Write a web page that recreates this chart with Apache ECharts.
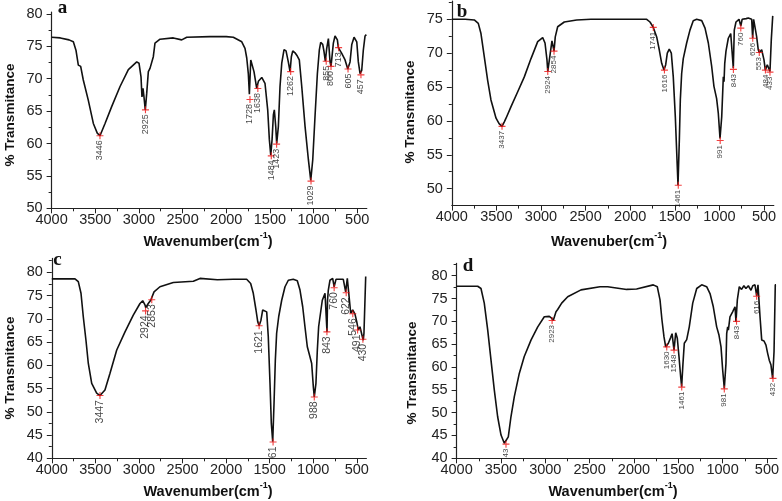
<!DOCTYPE html>
<html><head><meta charset="utf-8">
<script src="https://cdn.jsdelivr.net/npm/echarts@6/dist/echarts.min.js"></script>
<style>html,body{margin:0;padding:0;background:#fff}#c{width:782px;height:501px}</style>
</head><body><div id="c"></div>
<script>
// ---------- DATA ----------
// Panel a
const aX = [4000,3900,3800,3751,3721,3694,3667,3637,3580,3522,3477,3446,3388,3312,3216,3121,3025,2999,2976,2965,2953,2942,2927,2911,2892,2873,2853,2835,2816,2758,2606,2510,2452,2186,2000,1919,1822,1785,1765,1747,1735,1719,1704,1682,1651,1632,1593,1556,1525,1506,1490,1475,1460,1449,1433,1422,1403,1384,1364,1338,1315,1289,1269,1254,1238,1212,1186,1163,1135,1097,1059,1032,1009,983,956,934,918,895,880,865,849,830,811,800,773,754,727,716,704,677,639,608,582,562,536,505,487,467,448,430,410,395];
const aY = [76.4,76.3,76.0,75.7,74.4,72.1,71.9,69.8,66.7,63.1,61.6,61.2,63.1,65.7,68.8,71.4,72.6,72.4,70.3,67.2,68.5,67.2,65.2,67.7,71.1,71.6,71.4,73.4,75.5,76.1,76.3,76.0,76.4,76.5,76.5,76.4,75.7,74.7,73.2,70.8,67.6,72.9,73.0,71.1,68.5,69.6,70.2,69.3,65.2,60.6,58.2,60.6,64.4,65.2,62.6,60.0,62.6,68.8,72.4,74.5,74.3,72.6,71.1,73.4,74.3,74.0,73.5,72.9,68.8,62.6,57.5,54.3,57.5,64.2,70.8,74.4,75.6,75.3,74.2,72.7,74.7,76.2,72.6,71.9,75.5,76.6,76.0,74.8,74.7,73.9,72.9,71.5,72.6,75.3,76.4,75.7,72.6,70.8,71.3,74.4,76.6,76.8];
const aPeakX = [3446,2925,1728,1638,1484,1423,1262,1029,855,800,713,605,457];
const aPeakY = [61.2,65.2,66.8,68.5,58.1,59.9,71.1,54.2,72.7,71.9,74.8,71.5,70.6];
const aPeakLabel = ['3446','2925','1728','1638','1484','1423','1262','1029','855','800','713','605','457'];

// Panel b
const bX = [4000,3850,3748,3703,3673,3636,3598,3561,3504,3470,3437,3410,3392,3336,3261,3187,3112,3037,2981,2955,2933,2924,2896,2877,2866,2854,2840,2813,2739,2600,2440,2200,2000,1815,1778,1741,1703,1674,1647,1621,1602,1584,1562,1539,1517,1494,1475,1464,1449,1438,1423,1405,1367,1330,1293,1255,1198,1161,1124,1086,1061,1031,1012,993,974,956,948,940,926,900,873,855,844,833,814,780,760,745,700,676,638,627,616,601,582,564,553,526,500,485,463,433,418,402];
const bY = [75.0,75.0,74.9,74.4,72.9,69.5,66.0,63.1,60.4,59.6,59.2,59.9,60.4,62.1,64.3,66.5,69.2,71.7,72.3,71.5,69.0,67.3,70.0,71.8,71.6,70.3,72.4,73.9,74.6,74.9,75.0,75.0,75.0,75.0,74.6,73.8,72.4,70.5,68.5,67.5,68.3,70.0,70.6,70.0,66.5,60.6,54.2,50.5,57.2,63.1,67.0,69.2,71.5,73.4,74.8,75.0,74.8,73.7,71.5,68.0,65.1,63.3,61.1,57.4,60.6,66.5,65.8,68.5,70.3,72.2,72.9,72.9,67.8,73.4,74.6,75.0,74.0,75.0,75.1,75.2,75.0,72.2,75.0,75.2,72.4,70.5,70.1,70.5,69.0,67.5,68.3,67.3,72.0,75.5];
const bPeakX = [3437,2924,2854,1741,1616,1461,991,843,760,626,553,484,433];
const bPeakY = [59.2,67.3,70.3,73.8,67.5,50.5,57.1,67.6,73.7,72.2,70.1,67.5,67.2];
const bPeakLabel = ['3437','2924','2854','1741','1616','1461','991','843','760','626','553','484','433'];

// Panel c
const cX = [4000,3850,3734,3696,3665,3639,3608,3581,3542,3485,3447,3390,3332,3255,3160,3065,2988,2957,2931,2922,2893,2865,2853,2827,2759,2606,2376,2300,2100,1917,1764,1718,1688,1657,1637,1621,1600,1580,1562,1534,1516,1496,1481,1465,1450,1435,1420,1396,1362,1324,1286,1229,1183,1152,1121,1095,1068,1037,1018,999,988,969,953,945,938,922,896,865,846,842,836,827,808,777,760,739,655,628,609,590,570,547,521,501,483,464,437,426,418,398];
const cY = [78.6,78.6,78.6,78.0,75.5,70.5,65.4,60.4,56.1,54.0,53.5,54.7,58.3,63.3,67.2,70.8,73.3,73.9,73.0,72.4,73.3,74.0,73.8,75.8,76.9,77.8,78.1,78.7,78.4,78.5,78.5,77.6,75.5,71.9,69.4,68.5,69.7,71.9,72.0,71.5,66.2,56.1,47.5,43.6,51.8,61.1,66.9,70.5,74.0,76.9,78.3,78.5,78.2,76.2,72.6,68.3,64.0,61.8,60.4,55.4,53.2,56.1,63.3,66.0,68.3,70.5,74.0,75.5,75.5,67.2,74.0,76.2,78.3,78.7,76.9,78.5,78.5,75.8,78.7,78.3,71.2,71.9,71.0,69.4,67.6,68.3,66.2,65.4,66.9,79.1];
const cPeakX = [3447,2924,2853,1621,1461,988,843,760,622,546,491,430];
const cPeakY = [53.5,71.7,74.1,68.5,43.5,53.2,67.2,76.7,75.6,71.1,67.6,65.6];
const cPeakLabel = ['3447','2924','2853','1621','61','988','843','760','622','546','491','430'];

// Panel d
const dX = [4000,3762,3725,3688,3649,3612,3575,3537,3499,3462,3443,3417,3387,3349,3293,3237,3161,3085,3011,2955,2928,2910,2879,2860,2841,2815,2747,2597,2383,2296,2082,1970,1782,1737,1706,1684,1661,1642,1612,1585,1570,1548,1529,1511,1492,1473,1462,1447,1432,1405,1376,1337,1292,1236,1180,1142,1105,1067,1041,1018,999,981,962,954,943,935,917,887,860,849,834,812,786,760,737,710,680,660,635,616,601,578,559,533,511,492,474,455,436,420,406,398];
const dY = [77.7,77.7,77.2,74.0,68.1,61.5,55.0,49.1,45.1,43.3,43.1,44.7,49.1,53.5,58.6,62.3,65.9,68.8,71.0,71.1,70.7,70.2,72.1,72.6,72.4,74.0,75.4,76.9,77.6,77.6,77.0,77.1,78.0,77.6,74.7,70.3,66.6,64.4,65.2,66.5,67.3,63.7,67.5,66.3,62.3,57.9,55.7,60.8,65.2,66.0,68.8,74.0,77.2,78.0,77.6,76.1,73.2,68.8,67.0,64.4,59.3,55.3,60.8,67.3,68.8,68.1,71.0,72.1,73.2,69.9,74.7,77.6,77.0,77.8,77.2,77.8,76.8,77.8,78.0,75.6,78.0,71.0,65.9,65.7,64.8,63.0,61.5,60.5,57.5,63.4,78.0,78.0];
const dPeakX = [3443,2923,1630,1548,1461,981,843,616,432];
const dPeakY = [43.1,70.2,64.4,63.7,55.6,55.2,70.0,75.5,57.5];
const dPeakLabel = ['43','2923','1630','1548','1461','981','843','616','432'];

// Tick labels
const xMajorTicks = [4000,3500,3000,2500,2000,1500,1000,500];
const xMinorTicks = [3750,3250,2750,2250,1750,1250,750];
const yTicksA = [50,55,60,65,70,75,80];
const yMinorA = [52.5,57.5,62.5,67.5,72.5,77.5];
const yTicksB = [50,55,60,65,70,75];
const yMinorB = [52.5,57.5,62.5,67.5,72.5,77.5];
const yTicksCD = [40,45,50,55,60,65,70,75,80];
const yMinorCD = [42.5,47.5,52.5,57.5,62.5,67.5,72.5,77.5,82.5];

const panelLetters = ['a','b','c','d'];
const yTitle = '% Transmitance';
const xTitles = ['Wavenumber','Wavenuber','Wavenumber','Wavenumber'];

// ---------- LAYOUT ----------
const layout = [
  {grid:{left:51.6, top:12, width:315.2, height:196.3}, ymin:50, ymax:80.3, yt:yTicksA, ym:yMinorA, lab:9,
   letter:[62.5,18], yT:[10,115], xT:[208,240]},
  {grid:{left:451.8, top:1, width:322, height:204.6}, ymin:47.5, ymax:77.7, yt:yTicksB, ym:yMinorB, lab:8,
   letter:[462,22], yT:[410,112], xT:[609,240]},
  {grid:{left:51.8, top:258.4, width:314.6, height:199.9}, ymin:40, ymax:83, yt:yTicksCD, ym:yMinorCD, lab:10.5,
   letter:[57.5,270], yT:[10,368], xT:[208,490]},
  {grid:{left:456.6, top:263.4, width:320.1, height:194.9}, ymin:40, ymax:82.7, yt:yTicksCD, ym:yMinorCD, lab:8,
   letter:[468,276], yT:[412,373], xT:[613,490]}
];
const panelsData = [
  [aX,aY,aPeakX,aPeakY,aPeakLabel],
  [bX,bY,bPeakX,bPeakY,bPeakLabel],
  [cX,cY,cPeakX,cPeakY,cPeakLabel],
  [dX,dY,dPeakX,dPeakY,dPeakLabel]
];

const FONT = '"Liberation Sans", Arial, sans-serif';
const grids = [], xAxes = [], yAxes = [], series = [], graphics = [];
const plusPath = 'path://M0,4.2H10V5.8H0Z M4.2,0H5.8V10H4.2Z';
const plain = v => String(Math.round(v));

layout.forEach((L, i) => {
  grids.push(Object.assign({outerBoundsMode:'none', containLabel:false}, L.grid));
  xAxes.push({type:'value', gridIndex:i, position:'bottom', inverse:true, min:390, max:4000,
    axisLine:{show:true, onZero:false, lineStyle:{color:'#222', width:1.2}},
    axisTick:{show:true, inside:false, length:5, customValues:xMajorTicks, lineStyle:{color:'#222', width:1}},
    axisLabel:{show:true, customValues:xMajorTicks, formatter:plain, margin:4, fontSize:14.5, color:'#222', fontFamily:FONT},
    splitLine:{show:false}});
  xAxes.push({type:'value', gridIndex:i, position:'bottom', inverse:true, min:390, max:4000,
    axisLine:{show:false, onZero:false}, axisLabel:{show:false}, splitLine:{show:false},
    axisTick:{show:true, inside:false, length:3, customValues:xMinorTicks, lineStyle:{color:'#222', width:1}}});
  yAxes.push({type:'value', gridIndex:i, position:'left', min:L.ymin, max:L.ymax,
    axisLine:{show:true, onZero:false, lineStyle:{color:'#222', width:1.2}},
    axisTick:{show:true, inside:false, length:5, customValues:L.yt, lineStyle:{color:'#222', width:1}},
    axisLabel:{show:true, customValues:L.yt, formatter:plain, margin:9, fontSize:14.5, color:'#222', fontFamily:FONT},
    splitLine:{show:false}});
  yAxes.push({type:'value', gridIndex:i, position:'left', min:L.ymin, max:L.ymax,
    axisLine:{show:false, onZero:false}, axisLabel:{show:false}, splitLine:{show:false},
    axisTick:{show:true, inside:false, length:3, customValues:L.ym, lineStyle:{color:'#222', width:1}}});

  const [X, Y, PX, PY, PL] = panelsData[i];
  series.push({type:'line', xAxisIndex:2*i, yAxisIndex:2*i, showSymbol:false, symbol:'none',
    data: X.map((x, k) => [x, Y[k]]), lineStyle:{color:'#111', width:1.6}, silent:true, z:2});
  series.push({type:'scatter', xAxisIndex:2*i, yAxisIndex:2*i, symbol:plusPath, symbolSize:7,
    itemStyle:{color:'#ee1111'}, z:3,
    data: PX.map((x, k) => [x, PY[k], PL[k]]),
    label:{show:true, formatter:p => p.value[2], position:'bottom', distance:1, rotate:90,
      align:'right', verticalAlign:'middle', fontSize:L.lab, color:'#111', fontFamily:FONT}});

  graphics.push({type:'text', x:L.letter[0], y:L.letter[1],
    style:{text:panelLetters[i], fontSize:19, fontWeight:'bold', fontFamily:'"Liberation Serif", "Times New Roman", serif',
      fill:'#111', textAlign:'center', textVerticalAlign:'bottom'}});
  graphics.push({type:'text', x:L.yT[0], y:L.yT[1], rotation:Math.PI/2,
    style:{text:yTitle, fontSize:13.5, fontWeight:'bold', fontFamily:FONT, fill:'#111', textAlign:'center', textVerticalAlign:'middle'}});
  graphics.push({type:'text', x:L.xT[0], y:L.xT[1],
    style:{text:'{a|' + xTitles[i] + '(cm}{s|-1}{a|)}', textAlign:'center', textVerticalAlign:'middle', fill:'#111',
      rich:{a:{fontSize:14.5, fontWeight:'bold', fontFamily:FONT, fill:'#111', lineHeight:18, verticalAlign:'bottom'},
            s:{fontSize:9, fontWeight:'bold', fontFamily:FONT, fill:'#111', lineHeight:18, verticalAlign:'top'}}}});
});

const chart = echarts.init(document.getElementById('c'), null, {renderer:'canvas'});
chart.setOption({animation:false, backgroundColor:'#fff', grid:grids, xAxis:xAxes, yAxis:yAxes, series:series, graphic:graphics});
</script></body></html>
